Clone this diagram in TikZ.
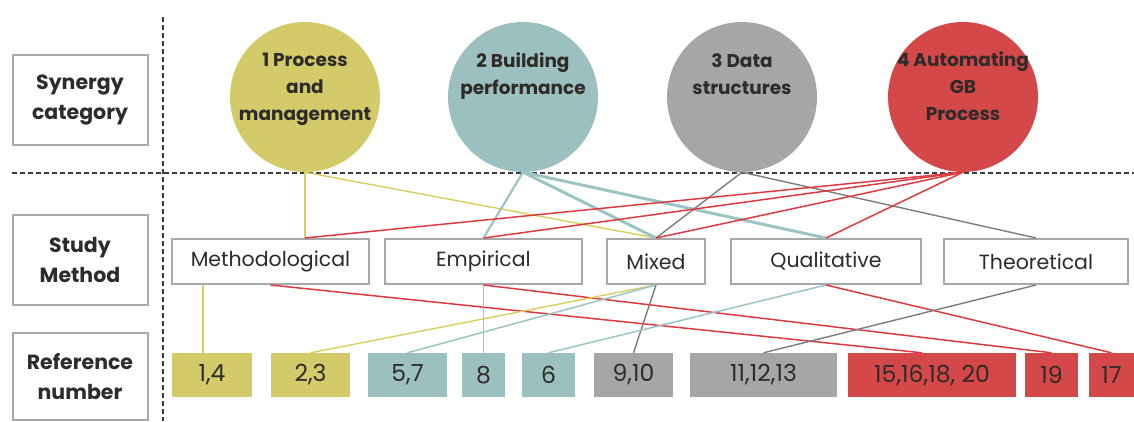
\documentclass[tikz,border=0pt]{standalone}
\usepackage{fontspec}
\setmainfont{Poppins}
\usetikzlibrary{calc}
\definecolor{ink}{HTML}{2E2B28}
\definecolor{frame}{HTML}{A8A8A8}
\definecolor{dashc}{HTML}{3C3C3C}
\definecolor{cylw}{HTML}{D3CB6A}
\definecolor{cteal}{HTML}{9CC0C0}
\definecolor{cgray}{HTML}{A6A6A6}
\definecolor{cred}{HTML}{D4484A}
\definecolor{lylw}{HTML}{D8CE5C}
\definecolor{lteal}{HTML}{9CC4C4}
\definecolor{lgray}{HTML}{7C7C7C}
\definecolor{lred}{HTML}{DF3A40}

\begin{document}
\begin{tikzpicture}[x=1pt,y=-1pt,
    every node/.style={align=center,text=ink,inner sep=0pt},
    rowname/.style={draw=frame,line width=2pt,fill=white,minimum width=135pt,minimum height=90pt,font=\fontsize{20.5}{30}\selectfont\bfseries},
    catcirc/.style={circle,minimum size=150pt},
    cattext/.style={anchor=base,font=\fontsize{18.5}{27}\selectfont\bfseries},
    methbox/.style={draw=frame,line width=2pt,fill=white,minimum height=45pt,font=\fontsize{20.5}{24}\selectfont},
    refbox/.style={minimum height=44pt,font=\fontsize{23.5}{26}\selectfont},
    ylwline/.style={draw=lylw,line width=1.4pt},
    tealline/.style={draw=lteal,line width=2.6pt},
    tealthin/.style={draw=lteal,line width=1.5pt},
    grayline/.style={draw=lgray,line width=1.4pt},
    redline/.style={draw=lred,line width=1.5pt}]
\useasboundingbox (0,0) rectangle (1134,421);

\draw[dashc,line width=1.6pt,dash pattern=on 5pt off 3pt] (12,173) -- (1134,173);
\draw[dashc,line width=1.6pt,dash pattern=on 5pt off 3pt] (163,17) -- (163,421);

\node[rowname] (syn) at (80,100) {Synergy\\category};
\node[rowname] (stu) at (80,260) {Study\\Method};
\node[rowname,minimum height=87pt] (refn) at (80,376.5) {Reference\\number};

\node[catcirc,fill=cylw] (proc) at (305,97) {};
\node[catcirc,fill=cteal] (perf) at (523,97) {};
\node[catcirc,fill=cgray] (data) at (742,97) {};
\node[catcirc,fill=cred] (auto) at (963,97) {};
\node[cattext] (procT) at (305,120.5) {1 Process\\and\\management};
\node[cattext] (perfT) at (523,94.5) {2 Building\\performance};
\node[cattext] (dataT) at (742,94.5) {3 Data\\structures};
\node[cattext] (autoT) at (963,120.5) {4 Automating\\GB\\Process};

\node[methbox,minimum width=197pt] (meth) at (270.5,261.5) {Methodological};
\node[methbox,minimum width=197pt] (emp) at (483.5,261.5) {Empirical};
\node[methbox,minimum width=98pt] (mix) at (656,261.5) {Mixed};
\node[methbox,minimum width=190pt] (qual) at (826,261.5) {Qualitative};
\node[methbox,minimum width=184pt] (theo) at (1036,261.5) {Theoretical};

\node[refbox,fill=cylw,minimum width=80pt] (r14) at (212,375) {1,4};
\node[refbox,fill=cylw,minimum width=79pt] (r23) at (310.5,375) {2,3};
\node[refbox,fill=cteal,minimum width=79pt] (r57) at (407.5,375) {5,7};
\node[refbox,fill=cteal,minimum width=43pt] (r8) at (483.5,375) {8};
\node[refbox,fill=cteal,minimum width=53pt] (r6) at (548.5,375) {6};
\node[refbox,fill=cgray,minimum width=79pt] (r910) at (633.5,375) {9,10};
\node[refbox,fill=cgray,minimum width=147pt] (r1113) at (763.5,375) {11,12,13};
\node[refbox,fill=cred,minimum width=168pt] (r15) at (932,375) {15,16,18, 20};
\node[refbox,fill=cred,minimum width=53pt] (r19) at (1051.5,375) {19};
\node[refbox,fill=cred,minimum width=45pt] (r17) at (1111.5,375) {17};

\draw[ylwline] (proc.south) -- (meth.north -| proc.south);
\draw[ylwline] (proc.south) -- (mix.north);
\draw[tealline,line width=2.2pt] (perf.south) -- (emp.north);
\draw[tealline,line width=3pt] (perf.south) -- (mix.north);
\draw[tealline,line width=3pt] (perf.south) -- (qual.north);
\draw[grayline] (data.south) -- (mix.north);
\draw[grayline] (data.south) -- (theo.north);
\draw[redline] (auto.south) -- (meth.north -| proc.south);
\draw[redline] (auto.south) -- (emp.north);
\draw[redline] (auto.south) -- (mix.north);
\draw[redline] (auto.south) -- (qual.north);

\coordinate (r14in) at ($(r14.north)+(-9,0)$);
\coordinate (r15in) at ($(r15.north)+(-10,0)$);
\draw[ylwline] (meth.south -| r14in) -- (r14in);
\draw[redline] (meth.south) -- (r15in);
\draw[tealthin] (emp.south) -- (r8.north);
\draw[redline] (emp.south) -- (r19.north);
\draw[ylwline] (mix.south) -- (r23.north);
\draw[tealthin] (mix.south) -- (r57.north);
\draw[grayline] (mix.south) -- (r910.north);
\draw[tealthin] (qual.south) -- (r6.north);
\draw[redline] (qual.south) -- (r17.north);
\draw[grayline] (theo.south) -- (r1113.north);
\end{tikzpicture}
\end{document}
